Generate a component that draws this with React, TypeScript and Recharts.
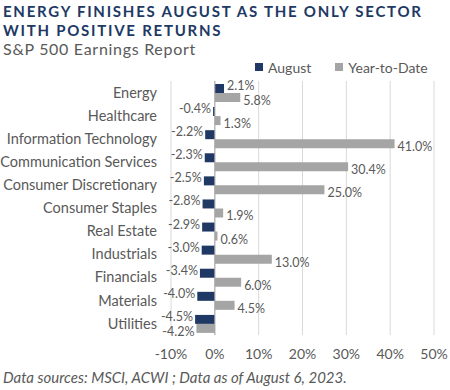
import {
  BarChart,
  Bar,
  XAxis,
  YAxis,
  CartesianGrid,
  ReferenceLine,
  LabelList,
} from 'recharts'

const SECTORS = [
  'Energy',
  'Healthcare',
  'Information Technology',
  'Communication Services',
  'Consumer Discretionary',
  'Consumer Staples',
  'Real Estate',
  'Industrials',
  'Financials',
  'Materials',
  'Utilities',
]
const AUGUST = [2.1, -0.4, -2.2, -2.3, -2.5, -2.8, -2.9, -3.0, -3.4, -4.0, -4.5]
const YTD = [5.8, 1.3, 41.0, 30.4, 25.0, 1.9, 0.6, 13.0, 6.0, 4.5, -4.2]
const X_TICKS = [-10, 0, 10, 20, 30, 40, 50]

const NAVY = '#203864'
const GRAY = '#A5A5A5'
const TEXT = '#595959'
const FONT = 'Lato, "Open Sans", sans-serif'

const rows = SECTORS.map((name, i) => ({ name, august: AUGUST[i], ytd: YTD[i] }))

// label sits just past the end of the bar, whichever side that is
const makeLabel = (dy: number) => (props: any) => {
  const { x, y, width, height, value } = props
  const left = Math.min(x, x + width)
  const right = Math.max(x, x + width)
  const neg = value < 0
  return (
    <text
      x={neg ? left - 2 : right + 3}
      y={y + height / 2 + dy}
      textAnchor={neg ? 'end' : 'start'}
      dominantBaseline="central"
      fontSize={12.5}
      fill={TEXT}
      fontFamily={FONT}
    >
      {value.toFixed(1)}%
    </text>
  )
}

const LegendItem = ({ color, label }: { color: string; label: string }) => (
  <span style={{ display: 'inline-flex', alignItems: 'center', marginRight: 24 }}>
    <span style={{ width: 8, height: 8, background: color, marginRight: 5 }} />
    {label}
  </span>
)

export default function App() {
  return (
    <div
      style={{
        position: 'fixed',
        left: 0,
        top: 0,
        width: 450,
        height: 390,
        background: '#fff',
        fontFamily: FONT,
      }}
    >
      <div
        style={{
          position: 'absolute',
          left: 3,
          top: 2,
          color: NAVY,
          fontWeight: 700,
          fontSize: 15,
          letterSpacing: 1.75,
          lineHeight: '19px',
        }}
      >
        ENERGY FINISHES AUGUST AS THE ONLY SECTOR
        <br />
        WITH POSITIVE RETURNS
      </div>
      <div
        style={{
          position: 'absolute',
          left: 3,
          top: 39,
          color: TEXT,
          fontSize: 16,
          letterSpacing: 0.7,
        }}
      >
        S&amp;P 500 Earnings Report
      </div>

      <div
        style={{
          position: 'absolute',
          left: 255,
          top: 57,
          color: TEXT,
          fontSize: 14,
          whiteSpace: 'nowrap',
        }}
      >
        <LegendItem color={NAVY} label="August" />
        <LegendItem color={GRAY} label="Year-to-Date" />
      </div>

      <div style={{ position: 'absolute', left: 0, top: 0 }}>
        <BarChart
          width={450}
          height={390}
          data={rows}
          layout="vertical"
          margin={{ top: 81, right: 16, left: 0, bottom: 25 }}
          barCategoryGap="13%"
          barGap={0}
        >
          <CartesianGrid horizontal={false} stroke="#D9D9D9" />
          <XAxis
            type="number"
            domain={[-10, 50]}
            ticks={X_TICKS}
            tickFormatter={(v) => `${v}%`}
            tick={{ fontSize: 14, fill: TEXT, fontFamily: FONT }}
            tickLine={false}
            axisLine={false}
            height={30}
            tickMargin={8}
          />
          <YAxis
            type="category"
            dataKey="name"
            width={171}
            tick={{ fontSize: 14.5, fill: TEXT, fontFamily: FONT }}
            tickLine={false}
            axisLine={false}
            tickMargin={8}
            interval={0}
          />
          <ReferenceLine x={0} stroke="#A6A6A6" />
          <Bar dataKey="august" name="August" fill={NAVY} isAnimationActive={false}>
            <LabelList dataKey="august" content={makeLabel(-3)} />
          </Bar>
          <Bar dataKey="ytd" name="Year-to-Date" fill={GRAY} isAnimationActive={false}>
            <LabelList dataKey="ytd" content={makeLabel(3)} />
          </Bar>
        </BarChart>
      </div>

      <div
        style={{
          position: 'absolute',
          left: 3,
          top: 368,
          color: TEXT,
          fontStyle: 'italic',
          fontSize: 15,
        }}
      >
        Data sources: MSCI, ACWI ; Data as of August 6, 2023.
      </div>
    </div>
  )
}
